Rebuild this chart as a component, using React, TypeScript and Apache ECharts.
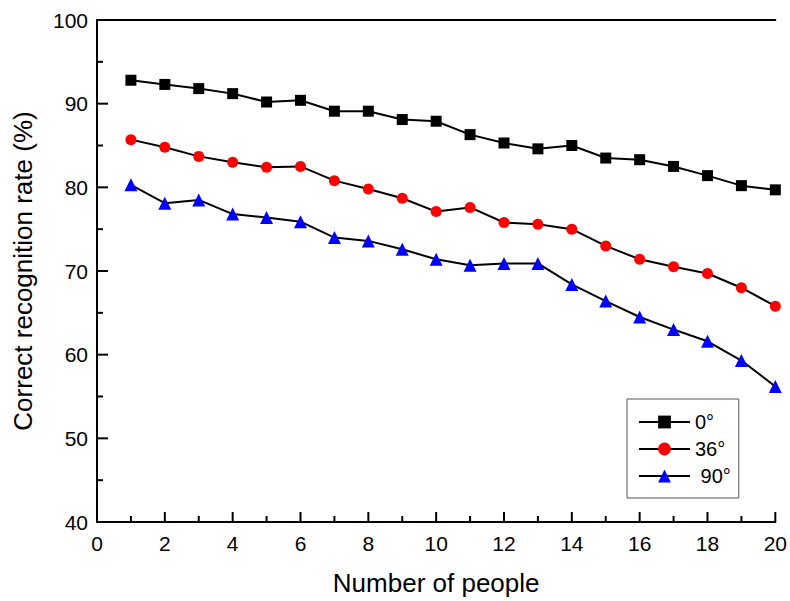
import React, { useEffect, useRef } from "react";
import * as echarts from "echarts";

const people = [1, 2, 3, 4, 5, 6, 7, 8, 9, 10, 11, 12, 13, 14, 15, 16, 17, 18, 19, 20];
const rate0 = [92.8, 92.3, 91.8, 91.2, 90.2, 90.4, 89.1, 89.1, 88.1, 87.9, 86.3, 85.3, 84.6, 85.0, 83.5, 83.3, 82.5, 81.4, 80.2, 79.7];
const rate36 = [85.7, 84.8, 83.7, 83.0, 82.4, 82.5, 80.8, 79.8, 78.7, 77.1, 77.6, 75.8, 75.6, 75.0, 73.0, 71.4, 70.5, 69.7, 68.0, 65.8];
const rate90 = [80.3, 78.1, 78.5, 76.8, 76.4, 75.9, 74.0, 73.6, 72.6, 71.4, 70.7, 70.9, 70.9, 68.4, 66.4, 64.5, 63.0, 61.6, 59.3, 56.2];
const seriesNames = ["0°", "36°", " 90°"];

// tick positions (major / minor) on each axis
const xMajorTicks = [0, 2, 4, 6, 8, 10, 12, 14, 16, 18, 20];
const xMinorTicks = [1, 3, 5, 7, 9, 11, 13, 15, 17, 19];
const yMajorTicks = [40, 50, 60, 70, 80, 90, 100];
const yMinorTicks = [45, 55, 65, 75, 85, 95];

const FONT = "'Liberation Sans', Arial, sans-serif";

export default function App() {
  const ref = useRef<HTMLDivElement>(null);
  useEffect(() => {
    if (!ref.current) return;
    const chart = echarts.init(ref.current, undefined, { renderer: "svg" });
    const pair = (vals: number[]) => people.map((p, i) => [p, vals[i]]);
    const mk = (name: string, vals: number[], symbol: string, size: number, color: string) => ({
      name,
      type: "line",
      data: pair(vals),
      symbol,
      symbolSize: size,
      showAllSymbol: true,
      lineStyle: { color: "#000", width: 2 },
      itemStyle: { color },
      clip: false,
      z: 5,
    });
    // [x, y, axis (0 = x ticks, 1 = y ticks), tick length]
    const tickData: number[][] = [
      ...xMajorTicks.map((v) => [v, 70, 0, 10]),
      ...xMinorTicks.map((v) => [v, 70, 0, 6]),
      ...yMajorTicks.map((v) => [10, v, 1, 11]),
      ...yMinorTicks.map((v) => [10, v, 1, 6]),
    ];
    const boxAxis = {
      type: "value",
      axisLine: { show: true, lineStyle: { color: "#000", width: 2 } },
      axisTick: { show: false },
      minorTick: { show: false },
      axisLabel: { show: false },
      splitLine: { show: false },
    };
    chart.setOption({
      animation: false,
      backgroundColor: "#fff",
      textStyle: { fontFamily: FONT },
      grid: { left: 97, top: 20, width: 679, height: 502 },
      legend: {
        orient: "vertical",
        left: 627,
        top: 399,
        padding: [13, 8, 12, 11],
        itemWidth: 51,
        itemHeight: 16,
        itemGap: 7,
        borderColor: "#555",
        borderWidth: 1,
        backgroundColor: "#fff",
        textStyle: { fontSize: 20, color: "#000", fontFamily: FONT },
        data: seriesNames,
      },
      xAxis: [
        {
          type: "value",
          position: "bottom",
          min: 0,
          max: 20,
          interval: 2,
          name: "Number of people",
          nameLocation: "middle",
          nameGap: 48,
          nameTextStyle: { fontSize: 26, color: "#000", fontFamily: FONT },
          axisLine: { show: true, lineStyle: { color: "#000", width: 2 } },
          axisTick: { show: false },
          axisLabel: { show: true, fontSize: 21, color: "#000", margin: 11, fontFamily: FONT },
          splitLine: { show: false },
        },
        { ...boxAxis, position: "top", min: 0, max: 20 },
      ],
      yAxis: [
        {
          type: "value",
          position: "left",
          min: 40,
          max: 100,
          interval: 10,
          name: "Correct recognition rate (%)",
          nameLocation: "middle",
          nameGap: 61,
          nameTextStyle: { fontSize: 26, color: "#000", fontFamily: FONT },
          axisLine: { show: true, lineStyle: { color: "#000", width: 2 } },
          axisTick: { show: false },
          axisLabel: { show: true, fontSize: 21, color: "#000", margin: 9, fontFamily: FONT },
          splitLine: { show: false },
        },
        { ...boxAxis, position: "right", min: 40, max: 100 },
      ],
      series: [
        {
          type: "custom",
          name: "ticks",
          xAxisIndex: 0,
          yAxisIndex: 0,
          silent: true,
          z: 6,
          data: tickData,
          renderItem: (params: any, api: any) => {
            const isY = api.value(2) === 1;
            const len = api.value(3);
            if (isY) {
              const p = api.coord([0, api.value(1)]);
              return {
                type: "line",
                shape: { x1: p[0], y1: p[1], x2: p[0] + len, y2: p[1] },
                style: { stroke: "#000", lineWidth: 2 },
              };
            }
            const p = api.coord([api.value(0), 40]);
            return {
              type: "line",
              shape: { x1: p[0], y1: p[1], x2: p[0], y2: p[1] - len },
              style: { stroke: "#000", lineWidth: 2 },
            };
          },
        },
        mk(seriesNames[0], rate0, "rect", 11, "#000"),
        mk(seriesNames[1], rate36, "circle", 11, "#ff0000"),
        mk(seriesNames[2], rate90, "triangle", 13, "#0000ff"),
      ],
    });
    return () => chart.dispose();
  }, []);
  return <div ref={ref} style={{ width: 790, height: 601, position: "absolute", left: 0, top: 0 }} />;
}
